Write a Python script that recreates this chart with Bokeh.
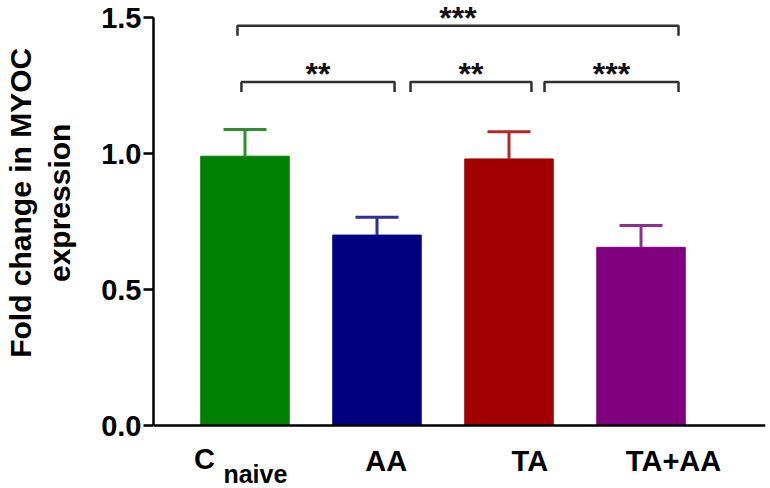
from bokeh.plotting import figure
from bokeh.models import (ColumnDataSource, Range1d, LinearAxis, FixedTicker,
                          PrintfTickFormatter)
from bokeh.core.properties import value
from bokeh.embed import file_html
from bokeh.resources import INLINE

# ---- data ----
categories = ["C", "AA", "TA", "TA+AA"]
subscript0 = "naive"
means = [0.99, 0.70, 0.98, 0.655]
sems = [0.098, 0.066, 0.10, 0.08]
bar_colors = ["#008000", "#000080", "#A00000", "#800080"]
err_colors = ["#2F8F2F", "#2F2F99", "#B02A2A", "#8F2F8F"]

y_ticks = [0.0, 0.5, 1.0, 1.5]
y_title = ["Fold change in MYOC", "expression"]

# significance brackets (positions in bar units)
br_left = [-0.057, -0.027, 1.254, 2.269]
br_right = [3.284, 1.133, 2.17, 3.284]
br_y = [1.47, 1.263, 1.263, 1.263]
br_drop = 0.037
br_stars = ["***", "**", "**", "***"]

FONT = "Liberation Sans"

xs = list(range(len(categories)))
upper = [m + s for m, s in zip(means, sems)]
cap_half = 0.163

src = ColumnDataSource(dict(
    x=xs, top=means, upper=upper, color=bar_colors, ecolor=err_colors,
    cl=[x - cap_half for x in xs], cr=[x + cap_half for x in xs],
))

p = figure(width=770, height=488, output_backend="svg", toolbar_location=None,
           x_range=Range1d(-0.693, 3.943), y_range=Range1d(-0.2316, 1.5625),
           x_axis_location=None, y_axis_location="left",
           min_border_left=153, min_border_right=5, min_border_top=0,
           min_border_bottom=0)
p.extra_x_ranges = {"lab": Range1d(-0.619, 3.640)}
p.background_fill_color = "white"
p.border_fill_color = "white"
p.outline_line_color = None
p.xgrid.visible = False
p.ygrid.visible = False

# bars
p.vbar(x="x", top="top", bottom=0, width=0.67, fill_color="color",
       line_color="color", source=src)
# error bars (upper only)
p.segment(x0="x", y0="top", x1="x", y1="upper", line_color="ecolor",
          line_width=3, source=src)
p.segment(x0="cl", y0="upper", x1="cr", y1="upper", line_color="ecolor",
          line_width=3, source=src)

# brackets
bx = [[l, l, r, r] for l, r in zip(br_left, br_right)]
by = [[y - br_drop, y, y, y - br_drop] for y in br_y]
p.multi_line(xs=bx, ys=by, line_color="#303030", line_width=2.5)
p.text(x=[(l + r) / 2 for l, r in zip(br_left, br_right)],
       y=[y + 0.03 for y in br_y], text=br_stars,
       text_font=value(FONT), text_font_style="bold", text_font_size="32px",
       text_align="center", text_baseline="alphabetic", text_color="#111111")

# y axis
ya = p.yaxis[0]
ya.ticker = FixedTicker(ticks=y_ticks)
ya.formatter = PrintfTickFormatter(format="%.1f")
ya.bounds = (0, 1.5)
ya.axis_line_width = 2.5
ya.axis_line_color = "black"
ya.major_tick_line_width = 2.5
ya.major_tick_line_color = "black"
ya.major_tick_out = 10
ya.major_tick_in = 0
ya.minor_tick_line_color = None
ya.major_label_standoff = 2
ya.major_label_text_font = FONT
ya.major_label_text_font_style = "bold"
ya.major_label_text_font_size = "29px"
ya.major_label_text_color = "black"
pad = "\u00a0" * 10  # shifts the centred title towards the top, as in the original
ya.axis_label = "\n".join(pad + t for t in y_title)
ya.axis_label_text_font = FONT
ya.axis_label_text_font_style = "bold"
ya.axis_label_text_font_size = "30px"
ya.axis_label_text_color = "black"
ya.axis_label_standoff = 22

# x axis line at y = 0 (labels drawn as text below it)
xa = LinearAxis(x_range_name="lab", fixed_location=0)
xa.ticker = FixedTicker(ticks=[])
xa.axis_line_width = 2.5
xa.axis_line_color = "black"
xa.major_tick_line_color = None
xa.minor_tick_line_color = None
xa.major_tick_out = 0
xa.major_tick_in = 0
xa.major_label_standoff = 0
xa.major_label_text_font_size = "0px"
p.add_layout(xa, "below")

# category labels, evenly spread as in the original
lab_y = -0.129
p.text(x=xs[1:], y=[lab_y] * 3, text=categories[1:], x_range_name="lab",
       text_font=value(FONT), text_font_style="bold", text_font_size="29px",
       text_align="center", text_baseline="alphabetic", text_color="black")
p.text(x=[xs[0]], y=[lab_y + 0.007], text=[categories[0]], x_range_name="lab",
       x_offset=-38,
       text_font=value(FONT), text_font_style="bold", text_font_size="29px",
       text_align="center", text_baseline="alphabetic", text_color="black")
p.text(x=[xs[0]], y=[-0.180], text=[subscript0], x_range_name="lab",
       x_offset=-19,
       text_font=value(FONT), text_font_style="bold", text_font_size="25px",
       text_align="left", text_baseline="alphabetic", text_color="black")

open("out.html", "w").write(file_html(p, INLINE))
